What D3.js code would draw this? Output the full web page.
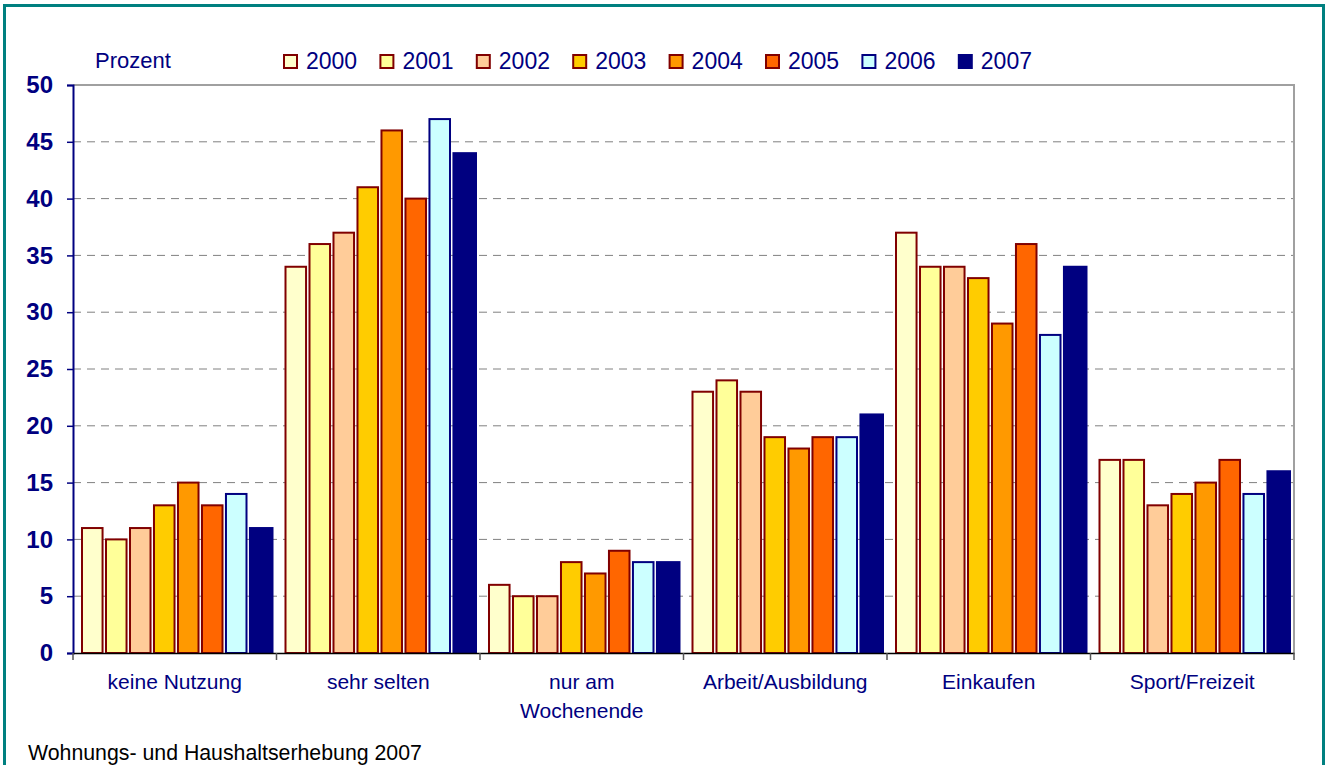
<!DOCTYPE html>
<html><head><meta charset="utf-8">
<script src="https://cdn.jsdelivr.net/npm/d3@7"></script>
<style>
html,body{margin:0;padding:0;background:#fff;}
svg{display:block;font-family:Arial,"Liberation Sans",sans-serif;}
</style></head>
<body>
<svg id="c" width="1328" height="765"></svg>
<script>
const categories = ["keine Nutzung","sehr selten","nur am|Wochenende","Arbeit/Ausbildung","Einkaufen","Sport/Freizeit"];
const years = ["2000","2001","2002","2003","2004","2005","2006","2007"];
const v2000 = [11,34,6,23,37,17];
const v2001 = [10,36,5,24,34,17];
const v2002 = [11,37,5,23,34,13];
const v2003 = [13,41,8,19,33,14];
const v2004 = [15,46,7,18,29,15];
const v2005 = [13,40,9,19,36,17];
const v2006 = [14,47,8,19,28,14];
const v2007 = [11,44,8,21,34,16];
const yTicks = [0,5,10,15,20,25,30,35,40,45,50];
const fills = ["#FFFFCC","#FFFF99","#FFCC99","#FFCC00","#FF9900","#FF6600","#CCFFFF","#000080"];
const strokes = ["#800000","#800000","#800000","#800000","#800000","#800000","#000080","#000080"];
const series = [v2000,v2001,v2002,v2003,v2004,v2005,v2006,v2007];

const svg = d3.select("#c");
const L=73, R=1294, T=85, B=653;
const navy="#000080";

svg.append("rect").attr("x",4.5).attr("y",5.5).attr("width",1319).attr("height",800)
  .attr("fill","none").attr("stroke","#008080").attr("stroke-width",3);

const y = d3.scaleLinear().domain([0,50]).range([B,T]);
const x0 = d3.scaleBand().domain(categories).range([L,R]).padding(0);
const x1 = d3.scaleBand().domain(years).range([8, x0.bandwidth()-5]).paddingInner(0.06).paddingOuter(0);

svg.append("g").selectAll("line").data(yTicks.filter(t=>t>0 && t<50)).join("line")
  .attr("x1",L).attr("x2",R).attr("y1",d=>y(d)).attr("y2",d=>y(d))
  .attr("stroke","#808080").attr("stroke-width",1).attr("stroke-dasharray","8,6");
svg.append("path").attr("d",`M${L},${T}H${R}V${B}`).attr("fill","none").attr("stroke","#a0a0a0").attr("stroke-width",2);

const g = svg.append("g");
categories.forEach((c,ci)=>{
  years.forEach((yr,si)=>{
    const val = series[si][ci];
    const last = si===years.length-1;
    g.append("rect")
      .attr("x",x0(c)+x1(yr)+1).attr("y",y(val))
      .attr("width",x1.bandwidth()-2+(last?2:0)).attr("height",B-y(val))
      .attr("fill",fills[si]).attr("stroke",strokes[si]).attr("stroke-width",2);
  });
});

const ya = svg.append("g").attr("transform",`translate(${L},0)`)
  .call(d3.axisLeft(y).tickValues(yTicks).tickSize(6).tickPadding(14));
ya.select(".domain").attr("stroke",navy).attr("stroke-width",2);
ya.selectAll(".tick line").attr("stroke",navy).attr("stroke-width",1.5);
ya.selectAll(".tick text").attr("fill",navy).attr("font-size",24).attr("font-weight","bold")
  .attr("font-family","Arial,'Liberation Sans',sans-serif");

const xa = svg.append("g").attr("transform",`translate(0,${B})`)
  .call(d3.axisBottom(x0).tickSize(0).tickFormat(""));
xa.select(".domain").attr("stroke","#000").attr("stroke-width",1.5);
svg.append("g").selectAll("line").data(categories.map(c=>x0(c)).concat([R])).join("line")
  .attr("x1",d=>d).attr("x2",d=>d).attr("y1",B).attr("y2",B+7)
  .attr("stroke","#555").attr("stroke-width",1.5);

categories.forEach(c=>{
  const lines = c.split("|");
  const t = svg.append("text").attr("x",x0(c)+x0.bandwidth()/2).attr("y",689)
    .attr("text-anchor","middle").attr("fill",navy).attr("font-size",21);
  lines.forEach((ln,i)=>t.append("tspan").attr("x",x0(c)+x0.bandwidth()/2).attr("dy",i?29:0).text(ln));
});

svg.append("text").attr("x",95).attr("y",68).attr("fill",navy).attr("font-size",22).text("Prozent");
years.forEach((yr,i)=>{
  const lx = 284 + i*96.4;
  svg.append("rect").attr("x",lx).attr("y",55).attr("width",13).attr("height",13)
    .attr("fill",fills[i]).attr("stroke",strokes[i]).attr("stroke-width",2);
  svg.append("text").attr("x",lx+22).attr("y",68.5).attr("fill",navy).attr("font-size",23).text(yr);
});

svg.append("text").attr("x",28).attr("y",760).attr("fill","#000").attr("font-size",21.3)
  .text("Wohnungs- und Haushaltserhebung 2007");
</script>
</body></html>
